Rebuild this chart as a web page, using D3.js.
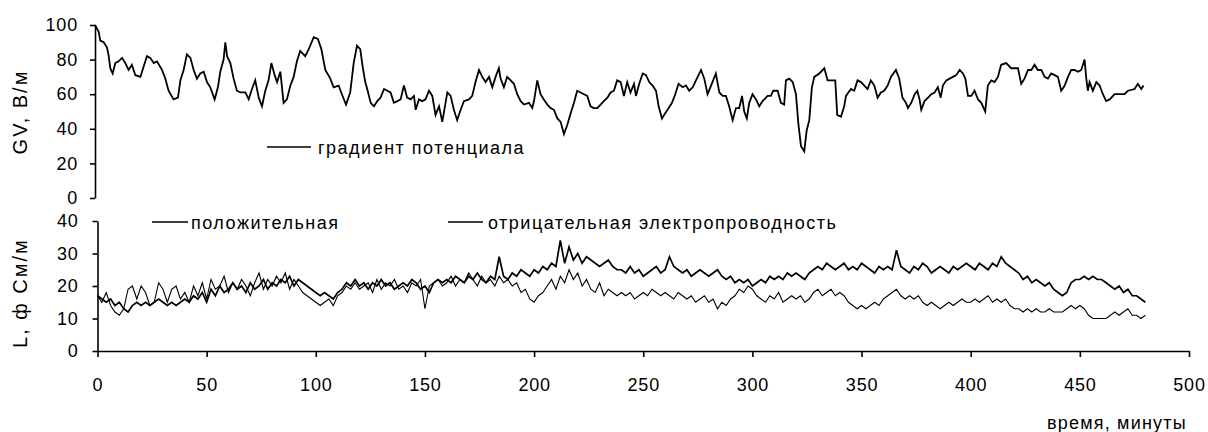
<!DOCTYPE html>
<html>
<head>
<meta charset="utf-8">
<script src="https://cdn.jsdelivr.net/npm/d3@7"></script>
<style>
  body { margin: 0; background: #fff; }
  svg text { font-family: "Liberation Sans", Arial, sans-serif; font-size: 18px; fill: #000; letter-spacing: 0.8px; }
  svg text.legend { letter-spacing: 1.5px; }
  svg text.ytitle { font-size: 20px; letter-spacing: 2px; }
  svg text.xtitle { letter-spacing: 1.2px; }
</style>
</head>
<body>
<script>
// gradient of potential (top panel), minutes and V/m
var gvTime = [0,1.7,2.4,4,5.5,6.3,7,8.1,9.3,10.8,
  12.4,13.9,15.4,16.9,18.5,20.8,22.3,23.8,25.3,26.9,
  28.4,30.7,32.2,33.7,36,38,39.1,40.6,42.1,43.7,
  45.2,46.7,48.2,49.8,51.3,52.8,54.8,56.3,57.4,58.9,
  59.7,60.5,62,63.5,65,66.6,68.9,70.4,71.9,73.4,
  75,76.5,78,79.5,80.8,82.3,83.4,84.9,86.4,87.9,
  89.5,91,92.5,94,96.3,97.9,100.2,102.1,103.7,105.5,
  107.8,109.3,111.6,113.1,115,116.9,118.5,120,121.5,122.6,
  123.8,124.7,126.3,127.8,129.3,130.8,132.4,133.9,135.4,136.9,
  138.5,140,141.5,143,144.6,146.1,146.9,148.4,149.9,151.4,
  153,154.5,156,157.6,159.1,161.4,162.9,164.4,165.9,167.5,
  169,171.3,172.8,174.3,175.9,177.4,178.9,180.5,182,183.5,
  185,185.8,187.3,188.8,190.4,191.9,193.4,195,196.5,198.8,
  200.3,201.1,202.6,204.1,205.6,207.2,208.7,210.2,211.8,213.3,
  214.8,216.3,217.9,219.4,220.9,222.4,224,225.5,227,228.5,
  230.1,231.6,233.1,234.7,236.2,237.7,239.2,240.8,242.3,243.8,
  245.3,246.9,247.8,249.3,250.9,252.4,253.9,255.4,257,258.2,
  259.7,261.2,262.8,264.3,265.8,267.3,269.2,270.7,272.2,273.8,
  275.3,277.6,279.1,280.6,282.2,284.4,286,287.5,289,290.5,
  292.1,293.6,295.1,296.4,297.4,298.6,299.7,301.2,302.8,304.3,
  305.8,308.1,309.6,310.7,312.7,314.2,315.7,316.5,318,319.6,
  321.1,322.2,323.4,324.9,326,327.2,328.4,329.5,331.8,334.1,
  335.6,337.1,339.1,340,341.7,343.2,344,346.3,347.8,349.3,
  350.9,352.4,353.9,355.4,357,358.5,360,361.5,363.1,364.6,
  366.9,368.4,369.9,371.5,372.4,373.9,375.5,376.7,377.7,378.5,
  380,381.6,383.1,384.6,386.1,387.4,388.4,390,391.5,393,
  394.5,396.1,397.6,398.7,399.9,401.4,402.9,404.5,406,407.8,
  409,410.6,412.1,413.6,415.1,417.4,419.7,421.3,422.8,424.3,
  425.8,427.4,428.9,430.4,431.9,433.5,435,436.5,438,439.6,
  441.1,442.6,444.2,445.7,447.2,448.7,450.3,451.8,453.3,454.1,
  454.8,455.6,457.1,458.7,460.2,461.7,463.2,464.8,467.1,469.3,
  471.6,473.2,476.2,477.7,479.3,480.3]
var gvValue = [100,96,91,90,87,82,75,72,78,79,
  81,78,74,77,71,70,76,82,81,78,
  79,74,69,62,57,58,68,74,83,81,
  74,69,72,73,67,64,57,64,73,80,
  90,82,78,69,62,61,61,57,63,68,
  58,53,62,68,78,71,67,73,55,57,
  65,70,79,85,82,86,93,92,86,74,
  69,64,65,60,54,61,78,88,86,76,
  67,63,55,53,56,58,63,62,61,55,
  56,57,65,58,57,59,51,57,56,57,
  62,59,48,53,44,61,59,51,45,51,
  56,57,59,67,74,70,67,70,64,70,
  75,69,64,70,68,66,60,56,54,55,
  52,56,68,60,57,54,52,51,46,44,
  37,42,49,55,62,61,60,59,53,52,
  52,54,56,58,61,62,68,67,59,67,
  61,66,59,66,72,71,67,65,62,53,
  46,49,52,55,60,66,64,65,62,64,
  68,74,69,60,65,72,61,59,59,53,
  45,52,52,59,50,46,55,60,57,53,
  56,59,59,62,62,55,54,68,69,67,
  60,43,30,27,39,45,64,70,72,75,
  68,68,68,48,47,53,59,63,62,68,
  67,65,63,68,65,58,61,62,65,70,
  74,69,58,55,52,55,60,62,57,51,
  56,58,60,61,64,58,65,68,69,70,
  71,74,72,69,59,59,62,57,55,50,
  65,68,67,70,77,78,75,75,75,66,
  69,74,74,77,74,74,70,69,72,71,
  70,62,65,70,74,74,73,74,80,69,
  62,67,62,67,65,60,56,57,60,60,
  60,62,63,66,63,65]

// positive and negative conductivity (bottom panel), fS/m, every 2 minutes
var condTime = d3.range(0, 481, 2)
var posValue = [
  17,16,15,16,14,15,13,12,14,15,14,15,14,15,16,15,14,15,14,15,
  16,15,17,16,18,15,19,17,20,18,19,21,19,20,18,21,19,20,22,19,
  21,20,22,21,23,20,22,21,20,19,18,17,18,17,16,18,19,21,20,22,
  20,21,19,21,20,22,20,21,19,20,21,20,22,21,19,20,18,21,22,21,
  22,21,23,22,21,23,22,24,22,21,23,22,29,23,22,24,23,25,24,23,
  25,24,26,25,27,26,34,27,32,28,30,27,29,28,27,26,27,28,26,25,
  25,24,26,24,25,23,24,25,26,24,25,29,26,25,24,25,23,24,25,24,
  23,24,25,23,22,23,21,22,21,22,20,21,22,21,23,22,23,22,24,23,
  24,23,22,24,25,26,25,27,26,25,26,27,25,26,25,27,26,25,24,26,
  25,26,25,31,26,25,24,26,25,27,26,24,25,26,25,24,26,25,26,27,
  26,25,27,26,25,27,26,29,27,26,25,24,22,23,21,22,21,20,21,19,
  18,17,18,21,22,22,23,22,23,22,22,21,20,19,20,18,19,17,17,16,15]
var negValue = [
  17,15,18,14,12,11,13,19,20,16,20,18,14,15,21,19,15,19,20,16,
  18,15,20,17,21,16,22,19,20,23,18,21,19,22,20,17,21,24,19,22,
  20,23,21,24,19,22,20,18,17,16,15,14,15,16,14,17,18,20,19,21,
  19,20,21,18,22,19,21,20,22,19,20,18,21,20,22,13,20,21,22,20,
  21,23,20,22,21,24,22,20,23,21,22,20,23,21,22,20,21,18,19,16,
  15,17,18,20,22,19,23,21,25,22,24,20,22,19,18,21,17,19,18,17,
  18,17,18,16,17,18,17,19,18,17,18,17,16,18,17,16,17,15,16,17,
  15,16,13,15,14,16,17,19,18,20,19,17,16,15,17,16,18,15,16,17,
  16,17,15,16,18,19,17,18,19,17,18,17,15,14,13,14,13,14,15,14,
  16,17,18,19,17,16,17,16,17,15,14,15,14,13,14,15,14,15,16,15,
  15,16,15,16,17,15,16,15,16,14,13,13,12,13,12,13,12,12,13,12,
  12,12,13,14,13,14,13,11,10,10,10,10,11,12,11,12,13,11,11,10,11]

// tick labels
var gvTicks = [0, 20, 40, 60, 80, 100]
var condTicks = [0, 10, 20, 30, 40]
var timeTicks = [0, 50, 100, 150, 200, 250, 300, 350, 400, 450, 500]

var svg = d3.select('body').append('svg')
    .attr('width', 1208).attr('height', 432)

var x = d3.scaleLinear().domain([0, 500]).range([97.5, 1189])
// the top panel sits a little to the left in the original
var xTop = x.copy().range([95, 1186.5])
var yTop = d3.scaleLinear().domain([0, 100]).range([198, 25])
var yBot = d3.scaleLinear().domain([0, 40]).range([351, 221])

var styleAxis = function(g) {
  g.selectAll('path, line').attr('stroke', '#000').attr('stroke-width', 1.6)
  g.selectAll('text').attr('font-size', null).attr('font-family', null)
}

// top y axis
svg.append('g')
    .attr('transform', 'translate(' + xTop(0) + ',0)')
    .call(d3.axisLeft(yTop).tickValues(gvTicks).tickSize(5).tickSizeOuter(0).tickPadding(12))
    .call(styleAxis)

// bottom y axis
svg.append('g')
    .attr('transform', 'translate(' + x(0) + ',0)')
    .call(d3.axisLeft(yBot).tickValues(condTicks).tickSize(5).tickSizeOuter(0).tickPadding(14))
    .call(styleAxis)

// x axis
svg.append('g')
    .attr('transform', 'translate(0,' + yBot(0) + ')')
    .call(d3.axisBottom(x).tickValues(timeTicks).tickSize(6).tickSizeOuter(0).tickPadding(21))
    .call(styleAxis)

// lines
var gvLine = d3.line()
    .x(function(d, i) { return xTop(gvTime[i]) })
    .y(function(d) { return yTop(d) })

var condLine = d3.line()
    .x(function(d, i) { return x(condTime[i]) })
    .y(function(d) { return yBot(d) })

svg.append('path').datum(gvValue)
    .attr('d', gvLine).attr('fill', 'none').attr('stroke', '#000').attr('stroke-width', 1.8)

svg.append('path').datum(negValue)
    .attr('d', condLine).attr('fill', 'none').attr('stroke', '#000').attr('stroke-width', 1.1)

svg.append('path').datum(posValue)
    .attr('d', condLine).attr('fill', 'none').attr('stroke', '#000').attr('stroke-width', 1.7)

// axis titles
svg.append('text').attr('class', 'ytitle')
    .attr('transform', 'translate(27,112) rotate(-90)')
    .attr('text-anchor', 'middle')
    .text('GV, В/м')

svg.append('text').attr('class', 'ytitle')
    .attr('transform', 'translate(27,293) rotate(-90)')
    .attr('text-anchor', 'middle')
    .text('L, ф См/м')

svg.append('text').attr('class', 'xtitle')
    .attr('x', 1047).attr('y', 429)
    .text('время, минуты')

// legends
var legend = [
  {x1: 267, x2: 311, y: 147, tx: 318, ty: 154, label: 'градиент потенциала'},
  {x1: 152, x2: 188, y: 222, tx: 191, ty: 229, label: 'положительная'},
  {x1: 448, x2: 483, y: 222, tx: 488, ty: 229, label: 'отрицательная электропроводность'}
]

legend.forEach(function(d) {
  svg.append('line')
      .attr('x1', d.x1).attr('x2', d.x2).attr('y1', d.y).attr('y2', d.y)
      .attr('stroke', '#000').attr('stroke-width', 1.3)
  svg.append('text').attr('class', 'legend')
      .attr('x', d.tx).attr('y', d.ty)
      .text(d.label)
})
</script>
</body>
</html>
